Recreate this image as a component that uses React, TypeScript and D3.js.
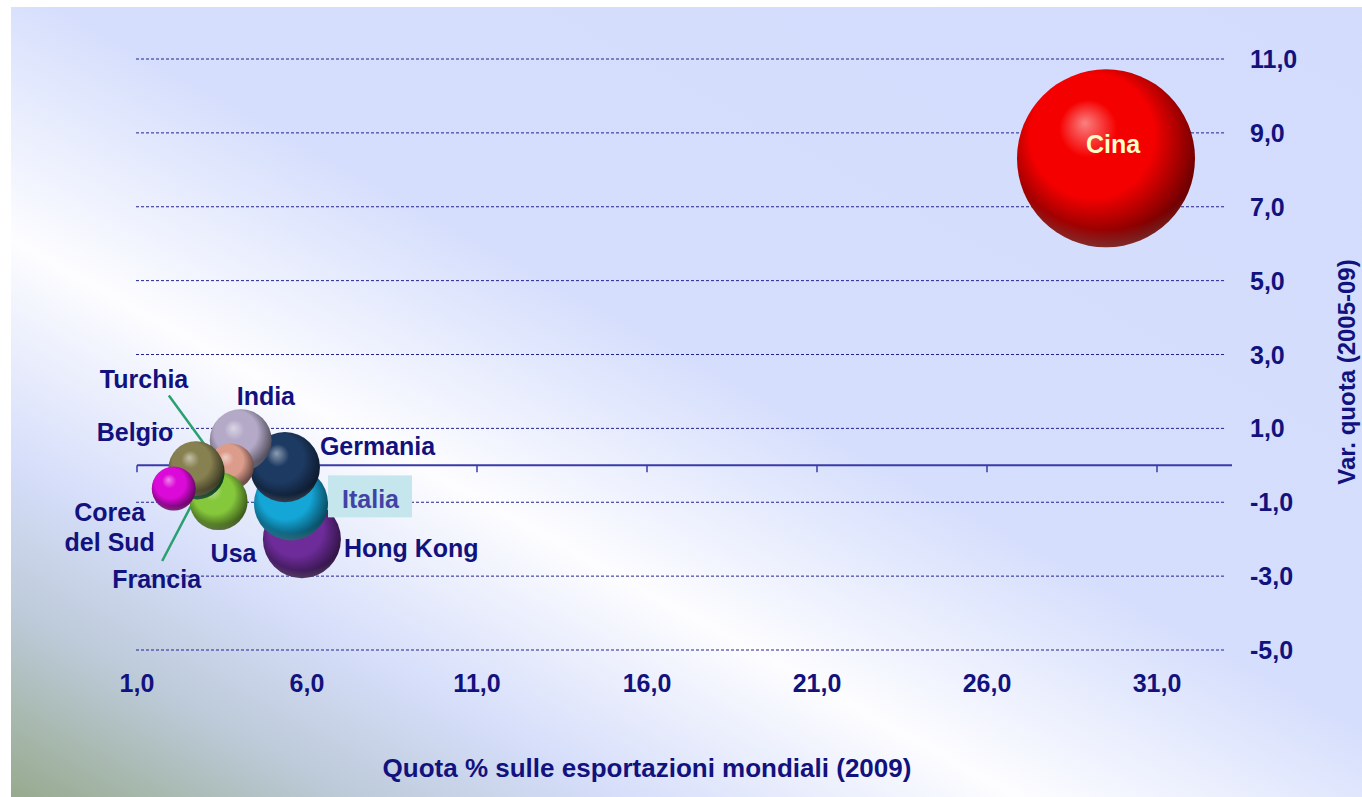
import React from "react";
import * as d3 from "d3";

// ---- Data ----
const categories = ["Cina", "Hong Kong", "Italia", "Germania", "India", "Turchia", "Usa", "Francia", "Belgio", "Corea del Sud"];
const quota2009 = [29.5, 5.85, 5.53, 5.35, 4.05, 3.76, 3.4, 2.77, 2.73, 2.08];
const varQuota = [8.31, -2.0, -1.03, -0.05, 0.68, -0.03, -0.97, -0.18, -0.09, -0.63];
const bubbleSize = [100, 19.2, 17.3, 15.5, 12.1, 6.7, 10.6, 9.5, 9.5, 6.1];
const bubbleColors = ["#f50000", "#6e2c9a", "#14a6d6", "#1d3a62", "#b4aac8", "#dc9c8c", "#86c83c", "#17863c", "#878050", "#dc0ad8"];
const xTicks = [1, 6, 11, 16, 21, 26, 31];
const yTicks = [11, 9, 7, 5, 3, 1, -1, -3, -5];
const xTitle = "Quota % sulle esportazioni mondiali (2009)";
const yTitle = "Var. quota (2005-09)";

// label layout: offsets relative to bubble centre (pixels)
const labelLayout: Record<string, any> = {
  "Cina": { dx: 7, dy: -5, anchor: "middle", fill: "#ffffc8" },
  "Hong Kong": { dx: 42, dy: 18, anchor: "start" },
  "Italia": { dx: 51, dy: 5, anchor: "start", box: [37, -28, 84, 42], fill: "#4242a6" },
  "Germania": { dx: 35, dy: -12, anchor: "start" },
  "India": { dx: -4, dy: -35, anchor: "start" },
  "Turchia": { dx: -131, dy: -78, anchor: "start", leader: [-62, -71, -27, -23] },
  "Usa": { dx: -8, dy: 61, anchor: "start" },
  "Francia": { dx: -85, dy: 116, anchor: "start", leader: [-35, 89, -2, 26] },
  "Belgio": { dx: -99, dy: -28, anchor: "start" },
  "Corea del Sud": { dx: -64, dy: 32, anchor: "middle", lines: ["Corea", "del Sud"] },
};

const W = 1362;
const H = 797;
const navy = "#12127e";
const font = "'Liberation Sans', Arial, sans-serif";

const fmt = (v: number) => d3.format(".1f")(v).replace(".", ",").replace("−", "-");

export default function App() {
  const x = d3.scaleLinear().domain([1, 33]).range([137, 1225]);
  const y = d3.scaleLinear().domain([-5, 11]).range([650, 59]);
  const r = d3.scaleSqrt().domain([0, 100]).range([0, 89]);

  const bubbles = categories.map((c, i) => ({
    name: c,
    cx: x(quota2009[i]),
    cy: y(varQuota[i]),
    r: r(bubbleSize[i]),
    color: bubbleColors[i],
    i,
  }));

  return (
    <svg width={W} height={H} style={{ position: "absolute", left: 0, top: 0 }} fontFamily={font}>
      <defs>
        <linearGradient id="bg" gradientUnits="userSpaceOnUse" x1={426} y1={-511} x2={-225} y2={666}>
          <stop offset="0" stopColor="#d3dcfc" />
          <stop offset="0.47" stopColor="#d5defc" />
          <stop offset="0.638" stopColor="#fdfdff" />
          <stop offset="0.78" stopColor="#d6defa" />
          <stop offset="0.88" stopColor="#bccad8" />
          <stop offset="1" stopColor="#97aa8e" />
        </linearGradient>
        {bubbles.map((b) => {
          const base = d3.color(b.color)!;
          const light = d3.interpolateRgb(b.color, "#ffffff")(0.5);
          const dark = base.darker(1.3).formatHex();
          const darker = base.darker(2.4).formatHex();
          return (
            <radialGradient key={b.name} id={`sph${b.i}`} cx="0.45" cy="0.42" r="0.58" fx="0.38" fy="0.3">
              <stop offset="0" stopColor={light} />
              <stop offset="0.28" stopColor={b.color} />
              <stop offset="0.6" stopColor={b.color} />
              <stop offset="0.86" stopColor={dark} />
              <stop offset="1" stopColor={darker} />
            </radialGradient>
          );
        })}
        <radialGradient id="rim" cx="0.5" cy="0.3" r="0.75">
          <stop offset="0.8" stopColor="#ffffff" stopOpacity="0" />
          <stop offset="1" stopColor="#ffffff" stopOpacity="0.25" />
        </radialGradient>
      </defs>

      <rect x={11} y={7} width={W - 11} height={H - 7} fill="url(#bg)" />

      {/* gridlines */}
      {yTicks.map((t) => (
        <line key={t} x1={x(1) - 1} x2={x(33)} y1={y(t)} y2={y(t)} stroke="#23238f" strokeWidth={1} strokeDasharray="3 2" />
      ))}
      {/* zero axis */}
      <line x1={x(1)} x2={x(33) + 7} y1={y(0)} y2={y(0)} stroke="#3a3aa8" strokeWidth={2} />
      {xTicks.map((t) => (
        <line key={t} x1={x(t)} x2={x(t)} y1={y(0)} y2={y(0) + 7} stroke="#3a3aa8" strokeWidth={1.5} />
      ))}

      {/* tick labels */}
      {yTicks.map((t) => (
        <text key={t} x={1250} y={y(t) + 9} fontSize={25} fontWeight="bold" fill={navy}>
          {fmt(t)}
        </text>
      ))}
      {xTicks.map((t) => (
        <text key={t} x={x(t)} y={692} fontSize={25} fontWeight="bold" fill={navy} textAnchor="middle">
          {fmt(t)}
        </text>
      ))}

      {/* axis titles */}
      <text x={647} y={777} fontSize={26} fontWeight="bold" fill={navy} textAnchor="middle">
        {xTitle}
      </text>
      <text transform="translate(1355,372) rotate(-90)" fontSize={24} fill={navy} textAnchor="middle" fontWeight="bold">
        {yTitle}
      </text>

      {/* leader lines */}
      {bubbles.map((b) => {
        const L = labelLayout[b.name];
        if (!L.leader) return null;
        return (
          <line key={b.name} x1={b.cx + L.leader[0]} y1={b.cy + L.leader[1]} x2={b.cx + L.leader[2]} y2={b.cy + L.leader[3]} stroke="#2aa070" strokeWidth={2.5} />
        );
      })}

      {/* bubbles */}
      {bubbles.map((b) => (
        <g key={b.name}>
          <circle cx={b.cx} cy={b.cy} r={b.r} fill={`url(#sph${b.i})`} />
          <circle cx={b.cx} cy={b.cy} r={b.r} fill="url(#rim)" />
        </g>
      ))}

      {/* labels */}
      {bubbles.map((b) => {
        const L = labelLayout[b.name];
        const lines: string[] = L.lines || [b.name];
        return (
          <g key={b.name}>
            {L.box && (
              <rect x={b.cx + L.box[0]} y={b.cy + L.box[1]} width={L.box[2]} height={L.box[3]} fill="#c6e6ee" />
            )}
            <text x={b.cx + L.dx} y={b.cy + L.dy} fontSize={25} fontWeight="bold" fill={L.fill || navy} textAnchor={L.anchor}>
              {lines.map((ln, k) => (
                <tspan key={k} x={b.cx + L.dx} dy={k === 0 ? 0 : 30}>
                  {ln}
                </tspan>
              ))}
            </text>
          </g>
        );
      })}
    </svg>
  );
}
